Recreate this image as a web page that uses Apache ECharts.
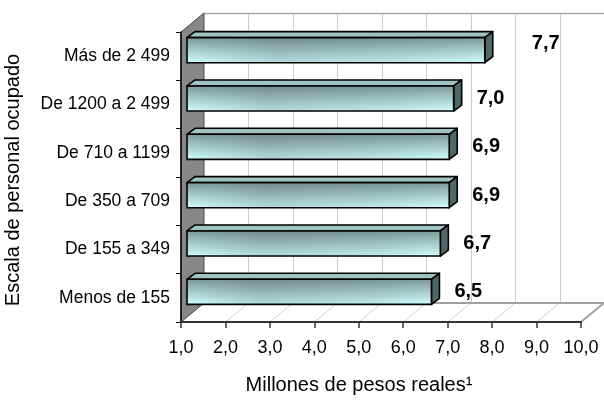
<!DOCTYPE html>
<html>
<head>
<meta charset="utf-8">
<script src="https://cdn.jsdelivr.net/npm/echarts@6/dist/echarts.min.js"></script>
<style>
  html, body { margin: 0; padding: 0; background: #ffffff; }
  #chart { width: 604px; height: 400px; }
</style>
</head>
<body>
<div id="chart"></div>
<script>
// Average remuneration by staff size band (million real pesos)
const categories = ['Más de 2 499', 'De 1200 a 2 499', 'De 710 a 1199', 'De 350 a 709', 'De 155 a 349', 'Menos de 155'];
const values = [7.7, 7.0, 6.9, 6.9, 6.7, 6.5];
const xMin = 1;
const xMax = 10;
const xStep = 1;

const FONT = '"Liberation Sans", Arial, sans-serif';

// Pseudo-3D geometry (pixels)
const WALL_DX = 23, WALL_DY = -19;      // depth of the chart box
const BAR_SHIFT_X = 6, BAR_SHIFT_Y = -6; // front face of bars sits slightly inside the box
const BAR_DEPTH_X = 8, BAR_DEPTH_Y = -6; // bar thickness in depth
const BAR_RATIO = 0.52;                  // bar height relative to the category band
const LABEL_GAP = 23;
const labelNudge = { 0: [24, -7] };      // the top label sits further out

const fmt = v => v.toFixed(1).replace('.', ',');

function renderFrame(params, api) {
  const cs = params.coordSys;
  const top = cs.y, bottom = cs.y + cs.height;
  const left = api.coord([xMin, 0])[0];
  const right = api.coord([xMax, 0])[0];
  const kids = [];
  // back wall
  kids.push({ type: 'rect', shape: { x: left + WALL_DX, y: top + WALL_DY, width: right - left, height: bottom - top },
    style: { fill: '#ffffff' } });
  for (let v = xMin + xStep; v < xMax; v += xStep) {
    const x = Math.round(api.coord([v, 0])[0] + WALL_DX) + 0.5;
    kids.push({ type: 'line', shape: { x1: x, y1: top + WALL_DY, x2: x, y2: bottom + WALL_DY },
      style: { stroke: '#cccccc', lineWidth: 1 } });
  }
  kids.push({ type: 'line', shape: { x1: left + WALL_DX, y1: top + WALL_DY + 0.5, x2: right + WALL_DX, y2: top + WALL_DY + 0.5 },
    style: { stroke: '#a6a6a6', lineWidth: 1.5 } });
  // floor
  kids.push({ type: 'polygon', shape: { points: [[left, bottom], [right, bottom], [right + WALL_DX, bottom + WALL_DY], [left + WALL_DX, bottom + WALL_DY]] },
    style: { fill: '#ffffff' } });
  for (let v = xMin + xStep; v < xMax; v += xStep) {
    const x = api.coord([v, 0])[0];
    kids.push({ type: 'line', shape: { x1: x, y1: bottom, x2: x + WALL_DX, y2: bottom + WALL_DY },
      style: { stroke: '#d0d0d0', lineWidth: 1 } });
  }
  kids.push({ type: 'line', shape: { x1: left + WALL_DX, y1: bottom + WALL_DY, x2: right + WALL_DX, y2: bottom + WALL_DY },
    style: { stroke: '#a0a0a0', lineWidth: 2 } });
  kids.push({ type: 'line', shape: { x1: right, y1: bottom, x2: right + WALL_DX, y2: bottom + WALL_DY },
    style: { stroke: '#a0a0a0', lineWidth: 2 } });
  // left wall
  kids.push({ type: 'polygon', shape: { points: [[left, top], [left + WALL_DX, top + WALL_DY], [left + WALL_DX, bottom + WALL_DY], [left, bottom]] },
    style: { fill: '#878787', stroke: '#4a4a4a', lineWidth: 1 } });
  return { type: 'group', children: kids };
}

function renderBar(params, api) {
  const v = api.value(0), c = api.value(1);
  const p0 = api.coord([xMin, c]);
  const p1 = api.coord([v, c]);
  const h = api.size([0, 1])[1] * BAR_RATIO;
  const cy = p1[1] + BAR_SHIFT_Y;
  const x0 = p0[0] + BAR_SHIFT_X, x1 = p1[0] + BAR_SHIFT_X;
  const yt = cy - h / 2, yb = cy + h / 2;
  const edge = { stroke: '#000000', lineWidth: 1.6, lineJoin: 'round' };
  const nudge = labelNudge[params.dataIndex] || [0, 0];
  return {
    type: 'group',
    children: [
      { type: 'polygon', shape: { points: [[x0, yt], [x1, yt], [x1 + BAR_DEPTH_X, yt + BAR_DEPTH_Y], [x0 + BAR_DEPTH_X, yt + BAR_DEPTH_Y]] },
        style: Object.assign({ fill: '#9fc2c2' }, edge) },
      { type: 'polygon', shape: { points: [[x1, yt], [x1 + BAR_DEPTH_X, yt + BAR_DEPTH_Y], [x1 + BAR_DEPTH_X, yb + BAR_DEPTH_Y], [x1, yb]] },
        style: Object.assign({ fill: '#4e6868' }, edge) },
      { type: 'rect', shape: { x: x0, y: yt, width: x1 - x0, height: h },
        style: { fill: new echarts.graphic.LinearGradient(0, 0, 0, 1, [
          { offset: 0, color: '#7e9999' },
          { offset: 0.4, color: '#a2c2c2' },
          { offset: 1, color: '#d0ffff' }
        ]) } },
      { type: 'rect', shape: { x: x0, y: yt, width: x1 - x0, height: h },
        style: { fill: new echarts.graphic.LinearGradient(0, 0, 1, 0, [
          { offset: 0, color: 'rgba(60,80,80,0)' },
          { offset: 0.3, color: 'rgba(60,80,80,0.2)' },
          { offset: 0.75, color: 'rgba(60,80,80,0.1)' },
          { offset: 1, color: 'rgba(60,80,80,0)' }
        ]), stroke: '#000000', lineWidth: 1.6 } },
      { type: 'text', style: { text: fmt(v), x: x1 + LABEL_GAP + nudge[0], y: cy + nudge[1],
          align: 'left', verticalAlign: 'middle', fill: '#000000',
          fontSize: 20, fontWeight: 'bold', fontFamily: FONT } }
    ]
  };
}

const chart = echarts.init(document.getElementById('chart'), null, { renderer: 'canvas' });
chart.setOption({
  animation: false,
  backgroundColor: '#ffffff',
  grid: { left: 181, top: 32, width: 400, height: 290, containLabel: false, outerBoundsMode: 'none' },
  xAxis: {
    type: 'value', min: xMin, max: xMax, interval: xStep, z: 10,
    axisLine: { show: true, lineStyle: { color: '#333333', width: 2 } },
    axisTick: { show: true, length: 6, lineStyle: { color: '#333333', width: 1.5 } },
    splitLine: { show: false },
    axisLabel: { formatter: fmt, fontSize: 18, color: '#000000', margin: 17, fontFamily: FONT },
    name: 'Millones de pesos reales¹', nameLocation: 'middle', nameGap: 53,
    nameTextStyle: { fontSize: 20, color: '#000000', fontFamily: FONT, padding: [0, 44, 0, 0] }
  },
  yAxis: {
    type: 'category', data: categories, inverse: true, z: 10,
    axisLine: { show: true, lineStyle: { color: '#000000', width: 1.5 } },
    axisTick: { show: true, length: 5, lineStyle: { color: '#000000', width: 1 } },
    axisLabel: { fontSize: 17.5, color: '#000000', margin: 11, fontFamily: FONT },
    name: 'Escala de personal ocupado', nameLocation: 'middle', nameGap: 158, nameRotate: 90,
    nameTextStyle: { fontSize: 20, color: '#000000', fontFamily: FONT, padding: [0, 6, 0, 0] }
  },
  series: [
    { type: 'custom', name: 'frame', renderItem: renderFrame, data: [[xMin, 0]], silent: true, z: 1, clip: false },
    { type: 'custom', name: 'Remuneración', renderItem: renderBar,
      data: values.map((v, i) => [v, i]), encode: { x: 0, y: 1 }, z: 2, clip: false }
  ]
});
</script>
</body>
</html>
